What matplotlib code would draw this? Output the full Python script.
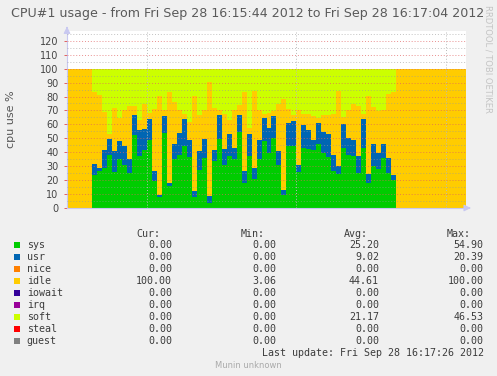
import numpy as np
import matplotlib.pyplot as plt

W, H = 497, 376

# per-second samples, data begins 5 s after 16:15:44
t_start = 5
total = 80
sys_vals = [23.6, 26.7, 29.0, 37.9, 26.0, 35.5, 30.7, 24.8, 52.1, 37.4, 41.9, 48.6, 19.5, 7.6, 53.8, 16.0,
            35.5, 37.9, 44.5, 36.7, 7.6, 27.6, 36.0, 3.8, 33.8, 49.5, 30.7, 37.4, 34.8, 54.8, 17.6, 37.4,
            21.0, 34.8, 48.1, 39.5, 50.5, 30.7, 9.3, 44.3, 44.3, 26.0, 43.3, 42.1, 41.4, 45.7, 39.5, 36.7,
            26.7, 24.3, 43.1, 37.9, 37.1, 25.2, 43.1, 17.6, 30.0, 28.3, 36.0, 24.8, 20.0]
usr_vals = [7.8, 2.3, 12.4, 11.4, 14.7, 12.6, 13.6, 10.2, 14.3, 18.3, 14.5, 15.4, 7.2, 1.9, 12.4, 1.6,
            10.7, 15.7, 19.1, 11.9, 4.5, 13.4, 13.3, 4.8, 7.6, 16.9, 11.4, 15.5, 8.3, 11.6, 8.8, 15.5,
            7.8, 13.8, 16.7, 17.9, 15.2, 10.0, 3.6, 16.7, 17.8, 4.7, 16.0, 13.6, 7.6, 15.3, 15.0, 16.2,
            11.2, 5.7, 16.9, 12.6, 11.9, 11.9, 20.5, 6.7, 16.2, 11.2, 10.2, 11.4, 3.6]
idle_vals = [51.7, 52.4, 27.4, 4.0, 31.2, 16.4, 25.7, 38.1, 6.5, 7.2, 17.9, 4.1, 44.3, 71.2, 4.3, 65.5,
             29.8, 16.9, 3.5, 13.1, 68.6, 25.4, 21.2, 82.1, 30.5, 4.1, 25.5, 10.0, 26.9, 7.2, 56.7, 4.7,
             55.0, 21.4, 2.8, 10.7, 3.8, 34.1, 65.4, 10.2, 4.3, 39.3, 7.8, 11.9, 16.7, 3.3, 11.9, 13.5,
             29.7, 54.3, 5.2, 19.5, 25.3, 35.8, 4.0, 56.4, 26.2, 30.0, 23.8, 45.7, 59.5]
soft_vals = [16.9, 18.6, 31.2, 46.7, 28.1, 35.5, 30.0, 26.9, 27.1, 37.1, 25.7, 31.9, 29.0, 19.3, 29.5, 16.9,
             24.0, 29.5, 32.9, 38.3, 19.3, 33.6, 29.5, 9.3, 28.1, 29.5, 32.4, 37.1, 30.0, 26.4, 16.9, 42.4,
             16.2, 30.0, 32.4, 31.9, 30.5, 25.2, 21.7, 28.8, 33.6, 30.0, 32.9, 32.4, 34.3, 35.7, 33.6, 33.6,
             32.4, 15.7, 34.8, 30.0, 25.7, 27.1, 32.4, 19.3, 27.6, 30.5, 30.0, 18.1, 16.9]

names = ['sys', 'usr', 'nice', 'idle', 'iowait', 'irq', 'soft', 'steal', 'guest']
colors = ['#00CC00', '#0066B3', '#FF8000', '#FFCC00', '#330099', '#990099', '#CCFF00', '#FF0000', '#808080']
cur = ['0.00', '0.00', '0.00', '100.00', '0.00', '0.00', '0.00', '0.00', '0.00']
mins = ['0.00', '0.00', '0.00', '3.06', '0.00', '0.00', '0.00', '0.00', '0.00']
avgs = ['25.20', '9.02', '0.00', '44.61', '0.00', '0.00', '21.17', '0.00', '0.00']
maxs = ['54.90', '20.39', '0.00', '100.00', '0.00', '0.00', '46.53', '0.00', '0.00']


def pad(v, fill=0.0):
    a = np.full(total, fill)
    a[t_start:t_start + len(v)] = v
    return a


def px(x, y):
    return x / W, 1 - y / H


fig = plt.figure(figsize=(W / 100, H / 100), dpi=100, facecolor='#F0F0F0')
ax = fig.add_axes([67 / W, 1 - 208 / H, 399 / W, (208 - 31) / H])
ax.set_facecolor('white')

edges = np.arange(total + 1)
base = np.zeros(total)
series = [(pad(sys_vals), colors[0]), (pad(usr_vals), colors[1]),
          (pad(idle_vals, 100.0), colors[3]), (pad(soft_vals), colors[6])]
for vals, c in series:
    ax.stairs(base + vals, edges, baseline=base, fill=True, color=c, lw=0)
    base = base + vals

ax.set_xlim(0, total)
ax.set_ylim(0, 127)

# grid on top of the areas
for v in range(5, 127, 10):
    ax.axhline(v, color='#999999', lw=0.7, ls=(0, (1, 2)), alpha=0.6, zorder=5)
for v in range(10, 121, 10):
    ax.axhline(v, color='#E06060', lw=0.7, ls=(0, (1, 2)), alpha=0.7, zorder=5)
for t in [16, 46, 76]:
    ax.axvline(t, color='#BBBBBB', lw=0.7, ls=(0, (1, 2)), zorder=5)

ax.set_yticks(range(0, 121, 10))
ax.set_xticks([])
ax.tick_params(axis='y', length=2, width=0.7, color='#E06060', labelsize=7, labelcolor='#444444', pad=4)
for s in ['top', 'right']:
    ax.spines[s].set_visible(False)
ax.spines['left'].set_color('#C8C8F0')
ax.spines['bottom'].set_color('#C8C8F0')
ax.annotate('', xy=(0, 1.025), xytext=(0, 1.0), xycoords='axes fraction',
            arrowprops=dict(arrowstyle='-|>', color='#C8C8F0', lw=0.8), annotation_clip=False)
ax.annotate('', xy=(1.012, 0), xytext=(1.0, 0), xycoords='axes fraction',
            arrowprops=dict(arrowstyle='-|>', color='#C8C8F0', lw=0.8), annotation_clip=False)

fig.text(*px(248, 13), 'CPU#1 usage - from Fri Sep 28 16:15:44 2012 to Fri Sep 28 16:17:04 2012',
         ha='center', va='center', fontsize=9.1, color='#5A5A5A')
fig.text(*px(11, 119), 'cpu use %', rotation=90, ha='center', va='center', fontsize=8, color='#555555')
fig.text(*px(488, 5), 'RRDTOOL / TOBI OETIKER', rotation=270, ha='center', va='top',
         fontsize=6, color='#C4C4C4')

mono = dict(family='DejaVu Sans Mono', fontsize=7.2, color='#3C3C3C', va='center')
fig.text(*px(136.7, 234), 'Cur:', ha='left', **mono)
fig.text(*px(240.7, 234), 'Min:', ha='left', **mono)
fig.text(*px(344, 234), 'Avg:', ha='left', **mono)
fig.text(*px(447, 234), 'Max:', ha='left', **mono)
for i, name in enumerate(names):
    y = 245.3 + 12 * i
    fig.patches.append(plt.Rectangle(px(14, y + 3), 6 / W, 6 / H, transform=fig.transFigure,
                                     color=colors[i], lw=0))
    fig.text(*px(26.7, y), name, ha='left', **mono)
    fig.text(*px(172, y), cur[i], ha='right', **mono)
    fig.text(*px(276, y), mins[i], ha='right', **mono)
    fig.text(*px(379, y), avgs[i], ha='right', **mono)
    fig.text(*px(483.5, y), maxs[i], ha='right', **mono)
fig.text(*px(483.5, 353.5), 'Last update: Fri Sep 28 16:17:26 2012', ha='right', **mono)
fig.text(*px(248, 365.5), 'Munin unknown', ha='center', va='center', fontsize=6, color='#AAAAAA')

fig.savefig('out.png', dpi=100, facecolor=fig.get_facecolor())
